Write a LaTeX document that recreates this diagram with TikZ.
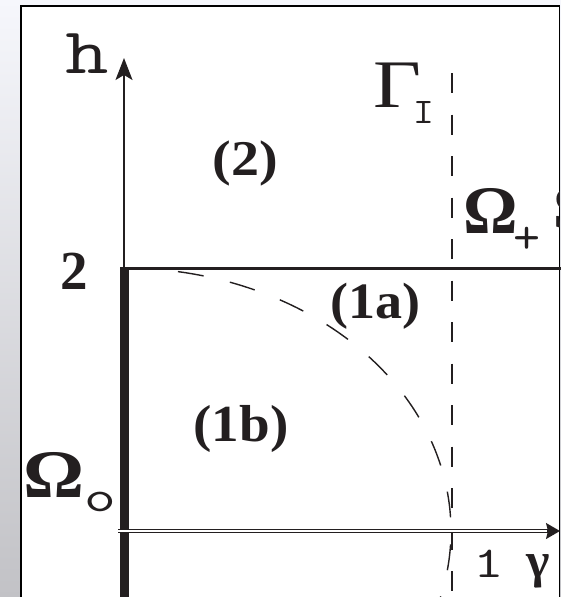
\documentclass[tikz,border=0pt]{standalone}
\usepackage{fontspec}
\newfontfamily\tmsfont{Liberation Serif}
\usetikzlibrary{arrows.meta}
\definecolor{ink}{HTML}{231F20}
\definecolor{bgtop}{HTML}{F6F7FC}
\definecolor{bgbot}{HTML}{C2C2C6}
\newcommand{\myfs}[1]{\fontsize{#1}{#1}\selectfont}
\newcommand{\myxs}[2]{\scalebox{#1}[1]{#2}}
\newcommand{\twfont}{\ttfamily}
\begin{document}
\begin{tikzpicture}[x=1pt,y=-1pt,
  lbl/.style={inner sep=0pt, anchor=base, text=ink},
  thinaxis/.style={draw=ink, line width=1.3pt},
  dashline/.style={draw=ink, line width=1.8pt, dash pattern=on 20pt off 21.5pt},
  dasharc/.style={draw=ink, line width=1.4pt, dash pattern=on 26pt off 27pt}]
\useasboundingbox (0,0) rectangle (561,597);
\shade[top color=bgtop, bottom color=bgbot] (0,0) rectangle (561,597);
\begin{scope}
\clip (0,0) rectangle (561,597);
\filldraw[fill=white, draw=black, line width=1.3pt] (21,6) rectangle (559.7,620);
\coordinate (O) at (124,531);
\coordinate (htop) at (124,58);
\coordinate (corner) at (124,268.5);
\coordinate (hright) at (561,268.5);
\coordinate (gstart) at (118,531);
\coordinate (gend) at (549,531);
\coordinate (gtip) at (560,531);
\coordinate (Gtop) at (451.7,73);
\coordinate (Gbot) at (451.7,600);
% dashed ellipse arc
\draw[dasharc] plot[domain=-80.5:15, samples=120, smooth] ({124+327*cos(\x)},{531+263*sin(\x)});
% Gamma_I dashed line
\draw[dashline] (Gtop) -- (Gbot);
% vertical h axis
\draw[thinaxis, -{Stealth[length=22pt, width=17pt, inset=5pt]}] (corner) -- (htop);
% horizontal line h=2
\draw[draw=ink, line width=3.3pt] (corner) -- (hright);
% thick boundary Omega_0
\draw[draw=ink, line width=9pt] (124.5,267) -- (124.5,600);
% gamma axis (double line)
\draw[draw=ink, line width=1.3pt, double=white, double distance=2.2pt] (gstart) -- (gend);
\draw[draw=ink, line width=1.3pt, -{Stealth[length=14pt, width=16pt, inset=2pt]}] (547,531) -- (gtip);
% labels
\node[lbl] (h) at (87.5,73) {\myxs{1.3}{\twfont\myfs{65}h}};
\node[lbl] (Gam) at (397.5,107) {\myxs{1.22}{\tmsfont\myfs{68}Γ}};
\node[lbl] (GamI) at (423.5,123) {\myxs{1.15}{\twfont\myfs{36}I}};
\node[lbl] (Omp) at (491,233) {\tmsfont\bfseries\myfs{68}Ω};
\node[lbl] (plus) at (527,253) {\myxs{1.05}{\twfont\myfs{50}+}};
\node[lbl] (Omo) at (53.5,497) {\myxs{1.12}{\tmsfont\bfseries\myfs{68}Ω}};
\node[lbl] (osub) at (100,511) {\myxs{1.4}{\twfont\myfs{44}o}};
\node[lbl] (r2) at (245,175) {\myxs{1.12}{\tmsfont\bfseries\myfs{50}(2)}};
\node[lbl] (r1a) at (375.5,318) {\myxs{1.06}{\tmsfont\bfseries\myfs{51}(1a)}};
\node[lbl] (r1b) at (241,441) {\myxs{1.06}{\tmsfont\bfseries\myfs{52}(1b)}};
\node[lbl] (two) at (74,289) {\tmsfont\bfseries\myfs{55}2};
\node[lbl] (one) at (488.5,577) {\myxs{1.35}{\twfont\myfs{44}1}};
\node[lbl] (gam) at (538.5,577) {\tmsfont\bfseries\myfs{50}γ};
\begin{scope}
\clip (21,6) rectangle (559,597);
\node[lbl, anchor=base west] (S) at (553,228) {\tmsfont\bfseries\myfs{60}S};
\end{scope}
\end{scope}
\end{tikzpicture}
\end{document}
